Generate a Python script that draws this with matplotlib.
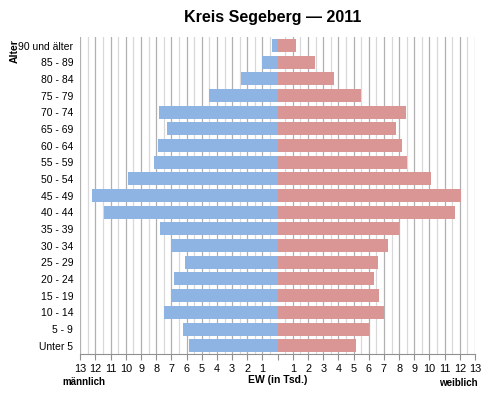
import numpy as np
import matplotlib
matplotlib.use("Agg")
import matplotlib.pyplot as plt
from matplotlib.ticker import FixedLocator, FuncFormatter

# age groups, top to bottom as in the chart
ages = ["90 und älter", "85 - 89", "80 - 84", "75 - 79", "70 - 74", "65 - 69",
        "60 - 64", "55 - 59", "50 - 54", "45 - 49", "40 - 44", "35 - 39",
        "30 - 34", "25 - 29", "20 - 24", "15 - 19", "10 - 14", "5 - 9", "Unter 5"]
# inhabitants in thousands
male = [0.35, 1.0, 2.43, 4.5, 7.8, 7.31, 7.9, 8.13, 9.86, 12.21, 11.46,
        7.73, 7.01, 6.11, 6.85, 7.05, 7.49, 6.24, 5.82]
female = [1.21, 2.48, 3.71, 5.47, 8.47, 7.81, 8.21, 8.54, 10.08, 12.06, 11.66,
          8.01, 7.27, 6.59, 6.34, 6.69, 6.98, 6.01, 5.14]

plt.rcParams["font.family"] = ["Liberation Sans", "DejaVu Sans"]

fig = plt.figure(figsize=(5, 3.96), dpi=100)
ax = fig.add_axes([0.1606, 0.106, 0.7894, 0.8])

y = np.arange(len(ages))
ax.barh(y, [-m for m in male], height=0.78, color="#8db4e2", zorder=3)
ax.barh(y, female, height=0.78, color="#da9694", zorder=3)

ax.set_xlim(-13, 13)
ax.set_ylim(len(ages) - 0.5, -0.5)

# vertical grid: integers darker, halves lighter
for v in np.arange(-13, 13.01, 0.5):
    if v == 0:
        continue
    c = "#b0b0b0" if float(v).is_integer() else "#d8d8d8"
    ax.axvline(v, color=c, lw=0.9, zorder=1)

ax.xaxis.set_major_locator(FixedLocator(np.arange(-13, 14)))
ax.xaxis.set_major_formatter(FuncFormatter(lambda v, p: "" if v == 0 else f"{abs(v):.0f}"))
ax.set_yticks(y)
ax.set_yticklabels(ages)
ax.tick_params(axis="x", length=4, width=0.8, color="#909090", labelsize=7.8, pad=3)
ax.tick_params(axis="y", length=0, labelsize=7.5, pad=5)

for s in ["top", "right", "left"]:
    ax.spines[s].set_visible(False)
ax.spines["bottom"].set_color("#909090")

fig.text(0.546, 0.955, "Kreis Segeberg \u2014 2011", ha="center", va="center",
         fontsize=11.5, fontweight="bold")
fig.text(0.03, 0.87, "Alter", rotation=90, ha="center", va="center",
         fontsize=7.5, fontweight="bold")
fig.text(0.168, 0.035, "männlich", ha="center", va="center", fontsize=7,
         fontweight="bold")
fig.text(0.556, 0.04, "EW (in Tsd.)", ha="center", va="center", fontsize=7.5,
         fontweight="bold")
fig.text(0.916, 0.032, "weiblich", ha="center", va="center", fontsize=7,
         fontweight="bold")

fig.savefig("out.png", dpi=100, facecolor="white")
